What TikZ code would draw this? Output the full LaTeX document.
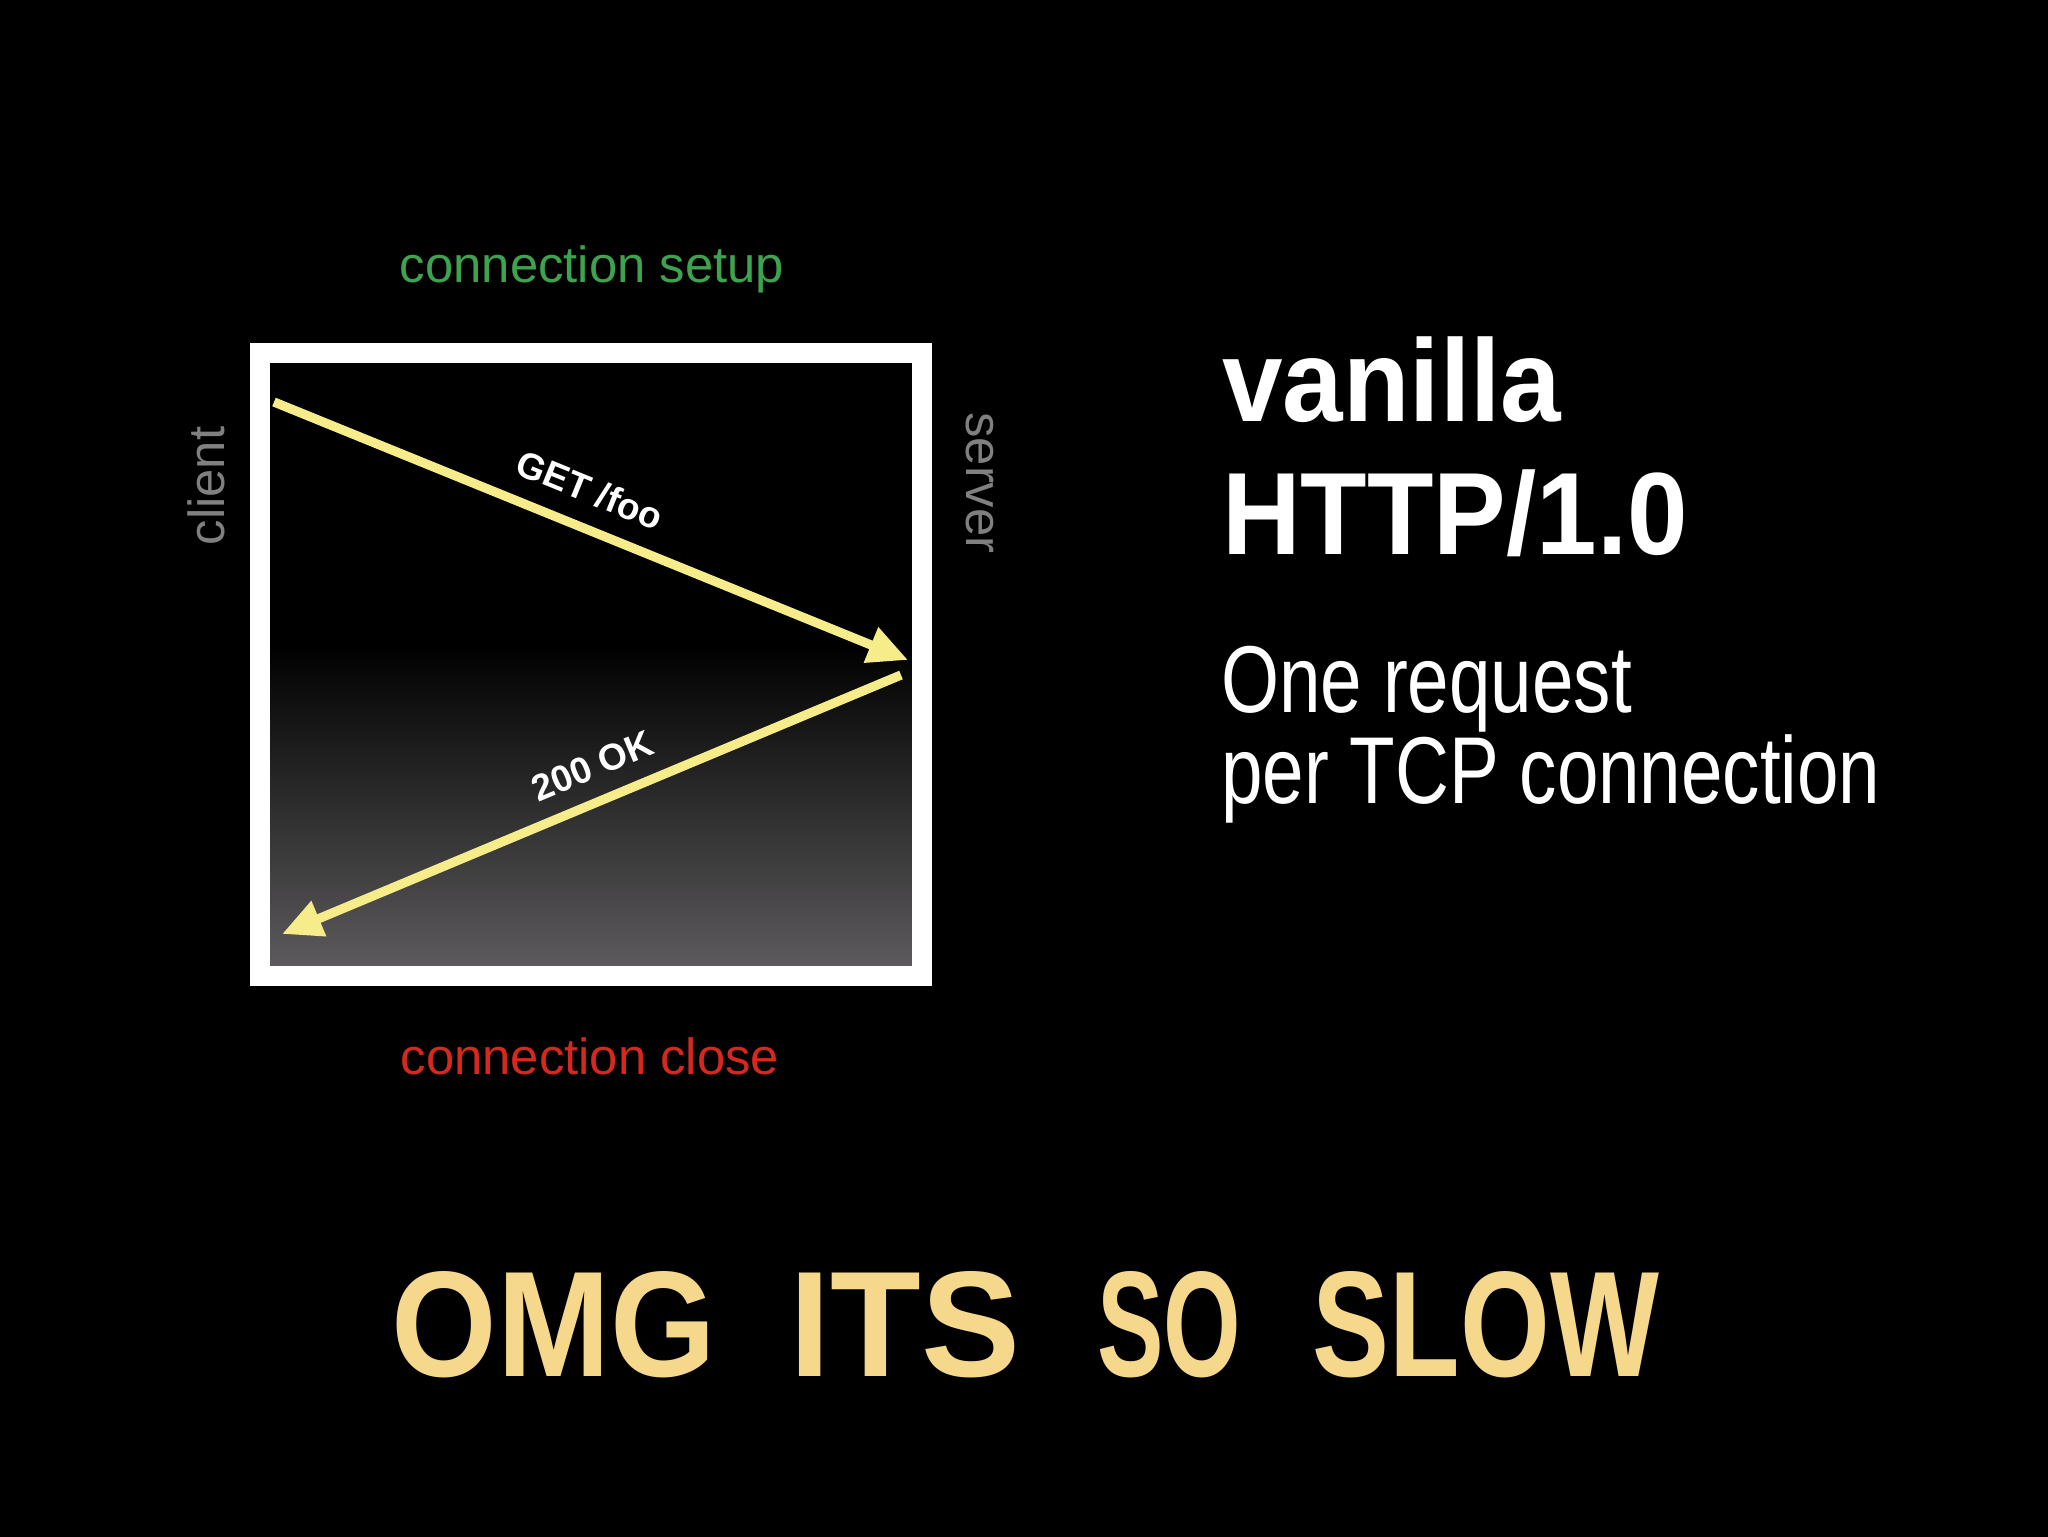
\documentclass[tikz,border=0pt]{standalone}
\usepackage{fontspec}
\usepackage{graphicx}
\usetikzlibrary{arrows.meta}
\setmainfont{Liberation Sans}
\newfontfamily\condbold[FakeStretch=0.93]{Liberation Sans}
\newfontfamily\condlight[FakeStretch=0.785]{Liberation Sans}
\definecolor{arrowyellow}{RGB}{247,236,138}
\definecolor{setupgreen}{RGB}{61,163,78}
\definecolor{closered}{RGB}{214,40,30}
\definecolor{sidegray}{RGB}{128,128,128}
\definecolor{gradbottom}{RGB}{92,90,92}
\definecolor{omgyellow}{RGB}{245,216,140}
\tikzset{
  msg/.style={draw=arrowyellow, line width=4.6pt, -{Triangle[length=20pt,width=18pt]}},
  msglabel/.style={text=white, font=\fontsize{18.5pt}{22pt}\selectfont\bfseries, inner sep=0pt},
  phase/.style={font=\fontsize{25.4pt}{30pt}\selectfont, inner sep=0pt, anchor=base},
  side/.style={text=sidegray, font=\fontsize{25.4pt}{30pt}\selectfont, inner sep=0pt},
  titlebig/.style={text=white, font=\condbold\bfseries\fontsize{58.5pt}{66pt}\selectfont, inner sep=0pt, anchor=base west},
  titlesmall/.style={text=white, font=\condlight\fontsize{47.5pt}{55pt}\selectfont, inner sep=0pt, anchor=base west},
  omg/.style={text=omgyellow, inner sep=0pt, font=\bfseries}
}
\begin{document}
\begin{tikzpicture}[x=0.5pt,y=-0.5pt]
\useasboundingbox (0,0) rectangle (2048,1536);
\fill[black] (-20,-20) rectangle (2068,1556);
% box interior with gradient
\fill[black] (270,363) rectangle (912,966);
\shade[top color=black, bottom color=gradbottom] (270,645) rectangle (912,966);
\draw[white, line width=10pt] (260,352.5) rectangle (921.5,975.5);
% arrows
\coordinate (c1) at (274,402);
\coordinate (s1) at (908,660);
\coordinate (s2) at (901,675);
\coordinate (c2) at (282,934);
\draw[msg] (c1) -- (s1);
\draw[msg] (s2) -- (c2);
\node[msglabel, rotate=-22.1] (getlbl) at (590,490) {GET /foo};
\node[msglabel, rotate=22.7] (oklbl) at (592,766) {200 OK};
% phase labels
\node[phase, text=setupgreen] (setup) at (592,282) {connection setup};
\node[phase, text=closered] (close) at (590,1074) {connection close};
\node[side, rotate=90] (client) at (206,486) {client};
\node[side, rotate=-90] (server) at (980,483) {server};
% title
\node[titlebig] (vanilla) at (1222,421) {vanilla};
\node[titlebig] (http) at (1222,554) {HTTP/1.0};
\node[titlesmall] (one) at (1221,712) {One request};
\node[titlesmall] (per) at (1221,803) {per TCP connection};
% OMG
\node[omg] (w1) at (554,1325) {\resizebox{162pt}{52.5pt}{\bfseries OMG}};
\node[omg] (w2) at (905,1325) {\resizebox{115.5pt}{52.5pt}{\bfseries ITS}};
\node[omg] (w3) at (1169,1325) {\resizebox{72pt}{52.5pt}{\bfseries SO}};
\node[omg] (w4) at (1486,1325) {\resizebox{173pt}{52.5pt}{\bfseries SLOW}};
\end{tikzpicture}
\end{document}
